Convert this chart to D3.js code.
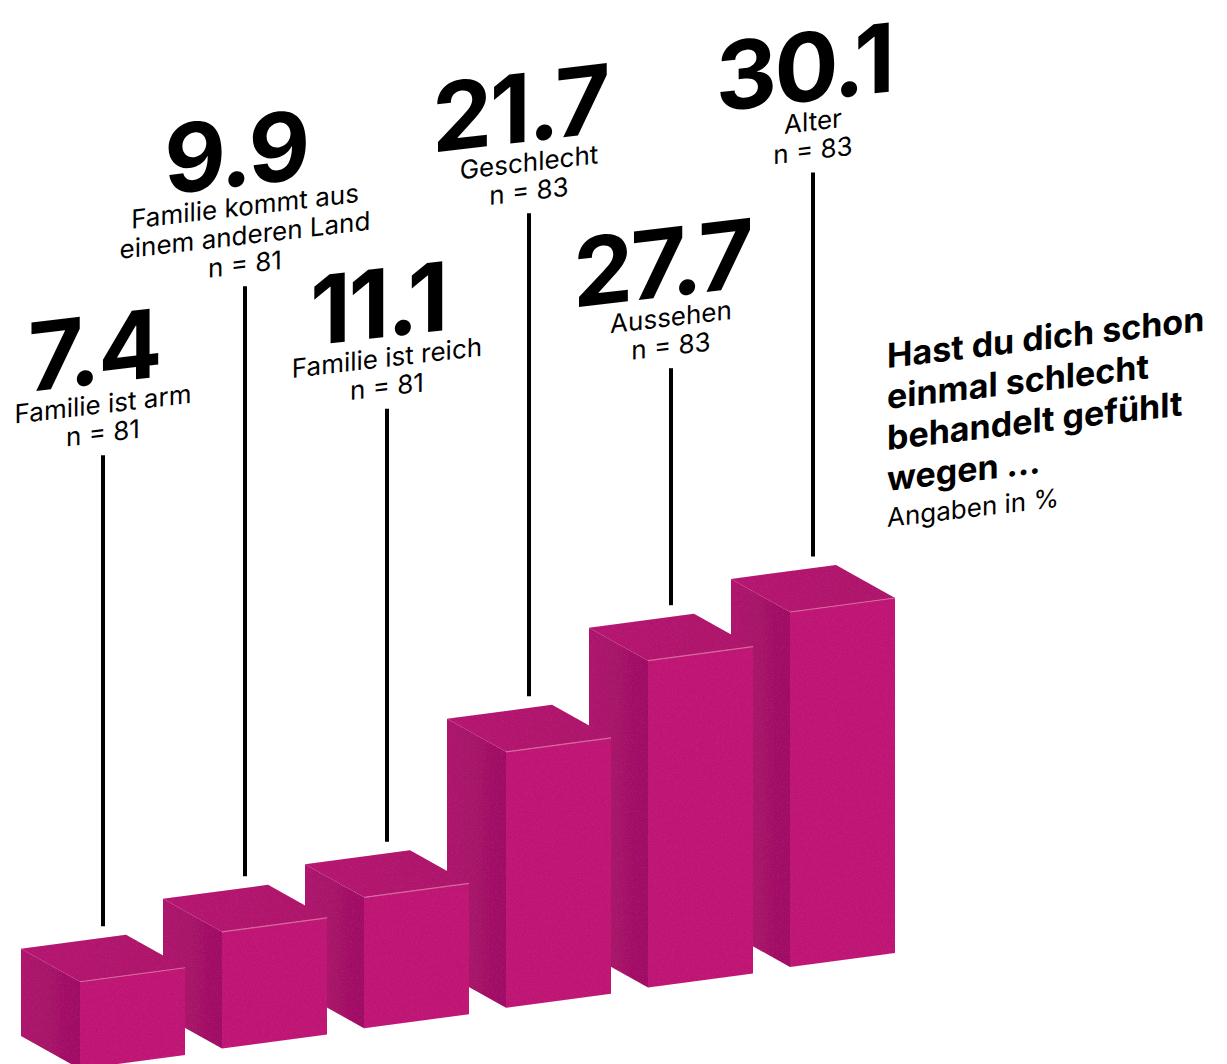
<!DOCTYPE html>
<html lang="de">
<head>
<meta charset="utf-8">
<title>Hast du dich schon einmal schlecht behandelt gefühlt wegen …</title>
<script src="https://cdn.jsdelivr.net/npm/d3@7"></script>
<style>
  html, body { margin: 0; padding: 0; background: #ffffff; }
  svg { display: block; }
  text { font-family: Inter, "Noto Sans", "Liberation Sans", sans-serif; fill: #000; }
</style>
</head>
<body>
<div id="chart"></div>
<script>
// Reasons for being treated badly (share of respondents, in %)
const categories = ["arm", "herkunft", "reich", "geschlecht", "aussehen", "alter"];
const categoryLines = [
  ["Familie ist arm"],
  ["Familie kommt aus", "einem anderen Land"],
  ["Familie ist reich"],
  ["Geschlecht"],
  ["Aussehen"],
  ["Alter"]
];
const values = [7.4, 9.9, 11.1, 21.7, 27.7, 30.1];
const sampleSizes = [81, 81, 81, 83, 83, 83];
const titleLines = ["Hast du dich schon", "einmal schlecht", "behandelt gefühlt", "wegen …"];
const subtitle = "Angaben in %";

// Layout: length of the leader line above each bar
const stemLengths = [471, 590, 433, 483, 237, 384];

const width = 1227, height = 1064;
const svg = d3.select("#chart").append("svg")
  .attr("width", width).attr("height", height);

// Oblique projection: front face runs along W, depth runs along D
const W = [105, -14];
const D = [-59, -33];
const textSkew = -6.7;

const x = d3.scalePoint().domain(categories).range([80, 790]);
const baseline = d3.scaleLinear().domain([80, 790]).range([1069, 967]);
const h = d3.scaleLinear().domain([0, 30.1]).range([0, 355]);

const defs = svg.append("defs");

// fine, faint grain over the bars
const grain = defs.append("filter").attr("id", "grain")
  .attr("x", 0).attr("y", 0).attr("width", 1).attr("height", 1);
grain.append("feTurbulence").attr("type", "fractalNoise")
  .attr("baseFrequency", 1.2).attr("numOctaves", 1).attr("seed", 4).attr("result", "noise");
grain.append("feColorMatrix").attr("in", "noise").attr("type", "matrix")
  .attr("values", "0 0 0 0 0  0 0 0 0 0  0 0 0 0 0  0.45 0 0 0 -0.17").attr("result", "dots");
grain.append("feComposite").attr("in", "dots").attr("in2", "SourceGraphic")
  .attr("operator", "in").attr("result", "dotsIn");
const merge = grain.append("feMerge");
merge.append("feMergeNode").attr("in", "SourceGraphic");
merge.append("feMergeNode").attr("in", "dotsIn");

const sideGrad = defs.append("linearGradient").attr("id", "side")
  .attr("x1", 0).attr("x2", 1).attr("y1", 0).attr("y2", 0);
sideGrad.append("stop").attr("offset", 0).attr("stop-color", "#b31c71");
sideGrad.append("stop").attr("offset", 1).attr("stop-color", "#a41869");

const topGrad = defs.append("linearGradient").attr("id", "topface")
  .attr("x1", 0).attr("x2", 1).attr("y1", 0).attr("y2", 0);
topGrad.append("stop").attr("offset", 0).attr("stop-color", "#bb1d74");
topGrad.append("stop").attr("offset", 1).attr("stop-color", "#b21b6f");

const bars = values.map((v, i) => {
  const bx = x(categories[i]);
  const by = baseline(bx);
  const bh = h(v);
  return { i, v, bx, by, bh, ty: by - bh };
});

const pt = (p) => p.join(",");
const add = (a, b) => [a[0] + b[0], a[1] + b[1]];

// back-to-front: right bars first so left bars overlap them
const barG = svg.append("g").attr("filter", "url(#grain)");
const barSel = barG.selectAll("g.bar").data(bars.slice().reverse()).join("g").attr("class", "bar");

barSel.append("polygon").attr("fill", "url(#side)")
  .attr("points", d => {
    const B = [d.bx, d.by], T = [d.bx, d.ty];
    return [B, T, add(T, D), add(B, D)].map(pt).join(" ");
  });
barSel.append("polygon").attr("fill", "url(#topface)")
  .attr("points", d => {
    const T = [d.bx, d.ty];
    return [T, add(T, W), add(add(T, W), D), add(T, D)].map(pt).join(" ");
  });
barSel.append("polygon").attr("fill", "#c51e79")
  .attr("points", d => {
    const B = [d.bx, d.by], T = [d.bx, d.ty];
    return [B, add(B, W), add(T, W), T].map(pt).join(" ");
  });
barSel.append("line").attr("stroke", "#dc6aa4").attr("stroke-width", 1.2)
  .attr("x1", d => d.bx).attr("y1", d => d.ty)
  .attr("x2", d => d.bx + W[0]).attr("y2", d => d.ty + W[1]);

// leader lines from the top face up to each label
bars.forEach(d => {
  d.sx = d.bx + (W[0] + D[0]) / 2;
  d.sBottom = d.ty + (W[1] + D[1]) / 2 - 32;
  d.sTop = d.sBottom - stemLengths[d.i];
});
svg.append("g").selectAll("line").data(bars).join("line")
  .attr("stroke", "#000").attr("stroke-width", 4)
  .attr("x1", d => d.sx).attr("x2", d => d.sx)
  .attr("y1", d => d.sTop).attr("y2", d => d.sBottom);

// value labels
const fmt = d3.format(".1f");
const lineGap = 29;
const labels = svg.append("g").selectAll("g").data(bars).join("g")
  .attr("transform", d => {
    const n = categoryLines[d.i].length;
    const ay = d.sTop - 42 - lineGap * (n - 1);
    return `translate(${d.sx},${ay}) skewY(${textSkew})`;
  })
  .attr("text-anchor", "middle");

labels.append("text")
  .attr("x", -9)
  .attr("y", -30)
  .style("font-size", "95px").style("font-weight", 700).style("letter-spacing", "-2.5px")
  .text(d => fmt(d.v));

labels.each(function(d) {
  const g = d3.select(this);
  const lines = categoryLines[d.i].concat([`n = ${sampleSizes[d.i]}`]);
  g.selectAll("text.cat").data(lines).join("text").attr("class", "cat")
    .attr("y", (t, k) => k * lineGap)
    .style("font-size", "26px").style("font-weight", 400)
    .text(t => t);
});

// title block
const title = svg.append("g")
  .attr("transform", `translate(887,368) skewY(${textSkew})`);
title.selectAll("text.t").data(titleLines).join("text").attr("class", "t")
  .attr("y", (t, k) => k * 41)
  .style("font-size", "34px").style("font-weight", 700)
  .text(t => t);
title.append("text")
  .attr("y", 3 * 41 + 36)
  .style("font-size", "26px").style("font-weight", 400)
  .text(subtitle);
</script>
</body>
</html>
